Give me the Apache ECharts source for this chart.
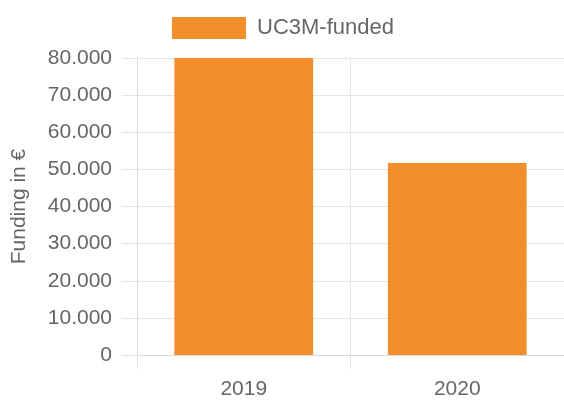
<!DOCTYPE html>
<html>
<head>
<meta charset="utf-8">
<script src="https://cdn.jsdelivr.net/npm/echarts@6/dist/echarts.min.js"></script>
<style>html,body{margin:0;padding:0;background:#fff}#c{width:564px;height:400px}</style>
</head>
<body>
<div id="c"></div>
<script>
var categories = ['2019', '2020'];
var fundedValues = [80000, 51700];
var seriesName = 'UC3M-funded';
var yAxisTitle = 'Funding in €';
var yMin = 0, yMax = 80000, yStep = 10000;

var FONT = '"Liberation Sans", Arial, Helvetica, sans-serif';
var chart = echarts.init(document.getElementById('c'), null, {renderer: 'canvas'});
function fmt(v) { return String(v).replace(/\B(?=(\d{3})+(?!\d))/g, '.'); }
chart.setOption({
  animation: false,
  textStyle: {fontFamily: FONT},
  legend: {
    data: [seriesName], top: 12, left: 167,
    itemWidth: 74, itemHeight: 22, icon: 'rect',
    textStyle: {color: '#666', fontSize: 22, fontFamily: FONT, padding: [0, 0, 0, 6]}
  },
  grid: {left: 137, right: 0, top: 58, bottom: 42, containLabel: false},
  xAxis: {
    type: 'category', data: categories, boundaryGap: true,
    axisLine: {show: true, lineStyle: {color: '#d9d9d9'}},
    axisTick: {show: true, length: 14, lineStyle: {color: '#e6e6e6'}},
    splitLine: {show: true, lineStyle: {color: '#e6e6e6'}},
    axisLabel: {color: '#666', fontSize: 21, fontFamily: FONT, margin: 24}
  },
  yAxis: {
    type: 'value', min: yMin, max: yMax, interval: yStep,
    name: yAxisTitle, nameLocation: 'middle', nameGap: 107, nameRotate: 90,
    nameTextStyle: {color: '#666', fontSize: 21, fontFamily: FONT},
    axisLine: {show: true, lineStyle: {color: '#d9d9d9'}},
    axisTick: {show: true, length: 15, lineStyle: {color: '#e6e6e6'}},
    splitLine: {show: true, lineStyle: {color: '#e6e6e6'}},
    axisLabel: {color: '#666', fontSize: 21, fontFamily: FONT, margin: 25, formatter: fmt}
  },
  series: [{
    name: seriesName, type: 'bar', data: fundedValues,
    barCategoryGap: '35%',
    itemStyle: {color: '#f28e2b'}
  }]
});
</script>
</body>
</html>
